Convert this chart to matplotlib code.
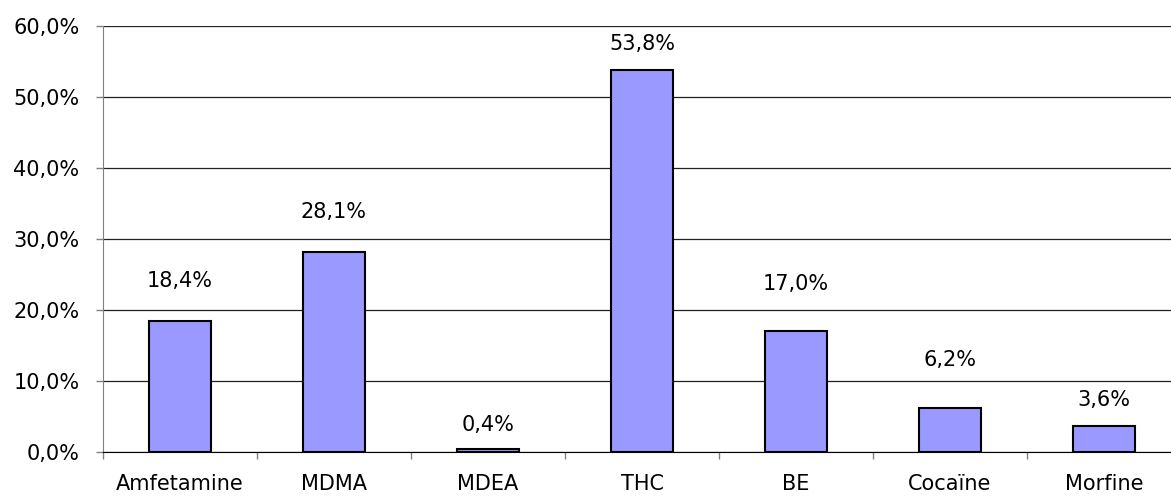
import numpy as np
import matplotlib
matplotlib.use("Agg")
import matplotlib.pyplot as plt
from matplotlib.ticker import FixedLocator, FuncFormatter

categories = ["Amfetamine", "MDMA", "MDEA", "THC", "BE", "Cocaïne", "Morfine"]
values = [18.4, 28.1, 0.4, 53.8, 17.0, 6.2, 3.6]
value_labels = ["18,4%", "28,1%", "0,4%", "53,8%", "17,0%", "6,2%", "3,6%"]
y_ticks = [0, 10, 20, 30, 40, 50, 60]

# label offsets above bar top (pixels), as placed in the original
label_offsets = [40, 40, 24, 26, 47, 48, 26]

plt.rcParams['font.family'] = ['DejaVu Sans']

fig = plt.figure(figsize=(11.71, 4.98), dpi=100)
# axes runs past the right edge of the figure, like the original
ax = fig.add_axes([103 / 1171, 46 / 498, 1078 / 1171, 426 / 498])

x = np.arange(len(categories))
ax.bar(x, values, width=0.40, color='#9999FF', edgecolor='black', linewidth=1.5, zorder=3)

ax.set_xlim(-0.5, len(categories) - 0.5)
ax.set_ylim(0, 60)

for i in range(len(values)):
    ax.annotate(value_labels[i], (x[i], values[i]), xytext=(0, label_offsets[i] * 0.72),
                textcoords='offset points', ha='center', va='center', fontsize=15)

ax.set_yticks(y_ticks)
ax.yaxis.set_major_formatter(FuncFormatter(lambda v, p: ("%.1f%%" % v).replace('.', ',')))
ax.yaxis.grid(True, color='#202020', linewidth=0.9, zorder=0)
ax.tick_params(axis='y', direction='out', length=5, width=1, color='#808080', labelsize=15, pad=12)

ax.set_xticks(x)
ax.set_xticklabels(categories)
ax.xaxis.set_minor_locator(FixedLocator(np.arange(-0.5, len(categories), 1.0)))
ax.tick_params(axis='x', which='major', length=0, labelsize=15, pad=16)
ax.tick_params(axis='x', which='minor', direction='out', length=5, width=1, color='#808080')

ax.spines['top'].set_visible(False)
ax.spines['right'].set_visible(False)
ax.spines['left'].set_color('#808080')
ax.spines['bottom'].set_color('black')
ax.spines['bottom'].set_zorder(4)

fig.savefig("out.png", dpi=100)
